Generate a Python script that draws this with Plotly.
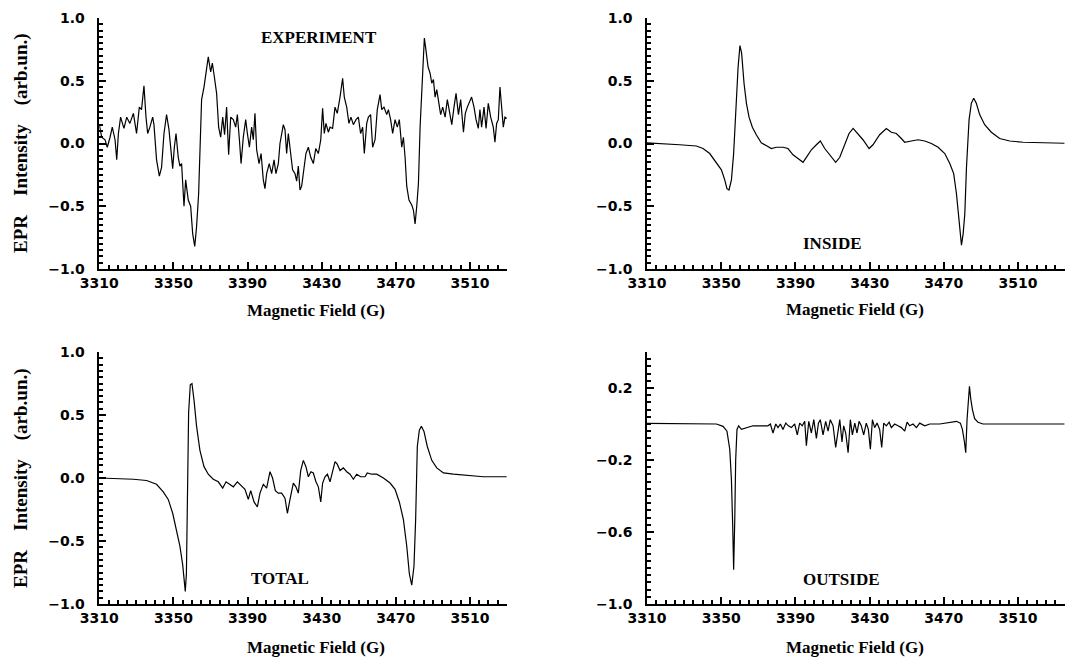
import plotly.graph_objects as go

W, H = 1065, 659

# ---------------- data ----------------
exp_field = [3310.0, 3311.3, 3313.1, 3314.3, 3315.8, 3317.0, 3318.5, 3319.4, 3320.3, 3321.5,
             3323.3, 3324.8, 3326.5, 3328.4, 3330.1, 3331.6, 3332.8, 3334.1, 3335.2, 3336.1,
             3337.3, 3338.8, 3339.5, 3340.9, 3342.4, 3343.6, 3344.9, 3346.3, 3347.6, 3348.7,
             3349.6, 3350.5, 3351.4, 3352.6, 3353.5, 3354.4, 3355.7, 3356.6, 3358.0, 3359.3,
             3360.4, 3361.5, 3362.5, 3363.6, 3364.3, 3365.2, 3366.5, 3367.9, 3368.8, 3370.1,
             3371.0, 3372.1, 3373.3, 3374.4, 3375.5, 3376.6, 3377.6, 3378.7, 3379.8, 3380.9,
             3382.3, 3383.6, 3384.5, 3385.6, 3386.5, 3387.7, 3389.0, 3389.9, 3391.0, 3392.2,
             3393.1, 3394.0, 3394.9, 3396.2, 3397.3, 3398.5, 3399.4, 3400.3, 3401.7, 3403.0,
             3404.3, 3405.3, 3406.6, 3407.5, 3408.4, 3409.3, 3410.2, 3411.1, 3412.0, 3413.3,
             3414.3, 3415.6, 3416.5, 3417.4, 3418.3, 3419.2, 3420.1, 3421.5, 3422.8, 3424.1,
             3425.5, 3426.8, 3428.2, 3429.5, 3430.5, 3431.4, 3432.3, 3433.6, 3434.5, 3435.9,
             3437.2, 3438.4, 3439.9, 3441.3, 3442.2, 3443.5, 3444.7, 3445.8, 3447.1, 3448.5,
             3449.8, 3451.0, 3452.1, 3453.0, 3454.3, 3455.2, 3456.4, 3457.5, 3458.8, 3460.0,
             3461.5, 3462.4, 3463.6, 3465.1, 3466.0, 3467.2, 3468.3, 3469.6, 3470.8, 3471.9,
             3473.2, 3474.1, 3475.0, 3475.9, 3477.1, 3478.6, 3479.5, 3480.4, 3481.3, 3482.2,
             3483.1, 3484.0, 3484.9, 3485.4, 3486.3, 3487.4, 3488.5, 3489.4, 3490.3, 3491.2,
             3492.1, 3493.5, 3494.2, 3495.3, 3496.6, 3497.8, 3498.9, 3500.2, 3501.4, 3502.5,
             3503.8, 3505.0, 3506.5, 3507.5, 3508.6, 3510.0, 3510.9, 3512.2, 3513.3, 3514.5,
             3515.4, 3516.3, 3517.6, 3518.7, 3519.9, 3521.2, 3522.6, 3523.5, 3524.4, 3525.3,
             3526.2, 3527.1, 3528.0, 3528.9, 3529.8]
exp_int = [0.15, 0.05, 0.03, -0.03, 0.05, 0.13, 0.03, -0.13, 0.08, 0.21,
           0.12, 0.21, 0.16, 0.24, 0.08, 0.29, 0.27, 0.46, 0.21, 0.08,
           0.13, 0.21, 0.15, -0.13, -0.26, -0.19, 0.08, 0.23, 0.11, -0.08,
           -0.20, -0.03, 0.08, -0.11, -0.18, -0.16, -0.50, -0.29, -0.45, -0.50,
           -0.72, -0.82, -0.66, -0.40, -0.05, 0.35, 0.45, 0.61, 0.69, 0.57,
           0.64, 0.53, 0.40, 0.13, 0.05, 0.21, 0.07, 0.29, -0.09, 0.21,
           0.19, 0.13, 0.23, 0.03, -0.16, 0.05, 0.19, 0.08, -0.03, 0.13,
           0.03, 0.24, -0.05, -0.16, -0.08, -0.29, -0.36, -0.24, -0.16, -0.24,
           -0.13, -0.24, -0.16, 0.00, 0.08, 0.15, 0.11, -0.08, 0.08, -0.11,
           -0.21, -0.24, -0.30, -0.18, -0.37, -0.34, -0.24, -0.08, -0.03, -0.11,
           -0.16, -0.04, -0.08, 0.03, 0.28, 0.08, 0.16, 0.09, 0.13, 0.12,
           0.29, 0.24, 0.37, 0.52, 0.37, 0.29, 0.16, 0.21, 0.15, 0.19,
           0.21, 0.08, 0.13, -0.08, 0.16, 0.21, 0.23, -0.03, 0.03, 0.27,
           0.39, 0.27, 0.29, 0.23, 0.27, 0.19, 0.08, 0.19, 0.13, 0.19,
           -0.03, 0.05, -0.11, -0.34, -0.45, -0.49, -0.53, -0.64, -0.50, -0.32,
           0.13, 0.45, 0.72, 0.84, 0.74, 0.61, 0.56, 0.48, 0.51, 0.37,
           0.43, 0.29, 0.23, 0.29, 0.21, 0.35, 0.24, 0.15, 0.29, 0.40,
           0.23, 0.35, 0.09, 0.24, 0.29, 0.35, 0.37, 0.29, 0.19, 0.12,
           0.27, 0.13, 0.29, 0.12, 0.32, 0.21, 0.13, 0.01, 0.16, 0.19,
           0.45, 0.29, 0.13, 0.21, 0.20]

inside_field = [3310.0, 3318.6, 3327.6, 3336.6, 3340.2, 3343.8, 3347.4, 3350.1, 3351.9, 3353.1,
                3354.2, 3355.5, 3356.7, 3357.8, 3359.1, 3360.1, 3361.0, 3362.3, 3363.6, 3365.0,
                3366.8, 3368.9, 3371.6, 3374.7, 3377.0, 3379.7, 3383.3, 3386.0, 3388.7, 3391.4,
                3394.1, 3395.9, 3398.6, 3401.3, 3403.4, 3405.8, 3408.5, 3411.7, 3413.9, 3416.6,
                3418.9, 3421.1, 3423.7, 3426.4, 3429.7, 3431.8, 3435.4, 3439.0, 3441.7, 3444.4,
                3447.1, 3448.9, 3452.5, 3456.1, 3459.7, 3463.3, 3466.9, 3470.5, 3473.2, 3475.3,
                3476.8, 3478.2, 3479.5, 3480.4, 3481.3, 3482.2, 3483.6, 3484.8, 3486.1, 3487.5,
                3489.3, 3492.0, 3495.6, 3500.1, 3505.5, 3512.7, 3521.7, 3528.0, 3535.0]
inside_int = [0.005, -0.005, -0.01, -0.02, -0.04, -0.08, -0.16, -0.21, -0.29, -0.36,
              -0.37, -0.29, -0.08, 0.27, 0.61, 0.78, 0.72, 0.48, 0.32, 0.21,
              0.13, 0.07, 0.005, -0.02, -0.04, -0.03, -0.03, -0.04, -0.09, -0.12,
              -0.15, -0.11, -0.05, -0.01, 0.02, -0.04, -0.09, -0.15, -0.11, 0.00,
              0.08, 0.12, 0.08, 0.03, -0.04, -0.01, 0.07, 0.12, 0.09, 0.08,
              0.04, 0.01, 0.02, 0.03, 0.02, 0.00, -0.03, -0.08, -0.16, -0.24,
              -0.40, -0.61, -0.81, -0.72, -0.56, -0.19, 0.19, 0.32, 0.36, 0.32,
              0.23, 0.15, 0.09, 0.04, 0.02, 0.01, 0.005, 0.003, 0.002]

total_field = [3310.0, 3319.4, 3328.4, 3335.5, 3340.9, 3344.5, 3347.2, 3349.6, 3351.7, 3353.5,
               3355.0, 3355.7, 3356.4, 3357.0, 3357.5, 3358.2, 3359.1, 3360.0, 3361.1, 3362.5,
               3364.3, 3366.5, 3368.8, 3371.5, 3374.2, 3376.6, 3378.4, 3380.5, 3382.3, 3384.5,
               3386.3, 3388.6, 3390.4, 3391.7, 3393.5, 3395.3, 3396.7, 3398.5, 3400.3, 3402.1,
               3403.5, 3405.0, 3406.6, 3408.4, 3410.2, 3411.5, 3412.9, 3414.7, 3416.1, 3417.4,
               3418.7, 3420.1, 3421.5, 3422.8, 3424.2, 3425.5, 3426.9, 3428.2, 3429.5, 3430.5,
               3431.8, 3433.1, 3434.5, 3435.9, 3437.2, 3438.4, 3439.9, 3441.7, 3443.5, 3445.3,
               3447.1, 3448.9, 3451.0, 3453.4, 3454.6, 3457.0, 3459.7, 3463.3, 3466.9, 3469.6,
               3471.9, 3474.1, 3475.9, 3477.3, 3478.6, 3479.8, 3480.7, 3481.6, 3482.7, 3483.8,
               3485.2, 3487.0, 3489.4, 3492.1, 3495.7, 3501.1, 3508.2, 3517.2, 3529.8]
total_int = [0.00, -0.005, -0.01, -0.02, -0.05, -0.11, -0.17, -0.28, -0.41, -0.54,
             -0.69, -0.78, -0.90, -0.76, -0.07, 0.52, 0.74, 0.75, 0.62, 0.41,
             0.22, 0.09, 0.03, -0.01, -0.03, -0.08, -0.03, -0.05, -0.07, -0.03,
             -0.06, -0.09, -0.17, -0.10, -0.19, -0.23, -0.12, -0.05, -0.08, 0.05,
             0.00, -0.10, -0.12, -0.12, -0.16, -0.28, -0.17, -0.04, -0.07, -0.12,
             0.06, 0.14, 0.09, 0.01, 0.05, 0.04, -0.03, -0.07, -0.19, -0.04,
             0.01, 0.03, -0.03, 0.05, 0.13, 0.11, 0.06, 0.08, 0.05, 0.03,
             -0.01, 0.03, 0.01, 0.01, 0.04, 0.03, 0.03, 0.00, -0.04, -0.09,
             -0.19, -0.33, -0.54, -0.76, -0.85, -0.70, -0.33, 0.25, 0.38, 0.41,
             0.37, 0.25, 0.14, 0.08, 0.04, 0.03, 0.02, 0.01, 0.01]

outside_field = [3310.0, 3327.6, 3340.2, 3347.4, 3351.0, 3353.1, 3354.6, 3355.5, 3356.2, 3356.7,
                 3357.3, 3357.8, 3358.5, 3359.4, 3360.9, 3363.6, 3367.1, 3370.7, 3373.4, 3375.2,
                 3376.5, 3377.9, 3379.4, 3380.6, 3381.9, 3383.3, 3384.8, 3386.2, 3387.8, 3389.6,
                 3391.0, 3392.3, 3393.7, 3395.0, 3395.9, 3397.2, 3398.6, 3399.9, 3401.3, 3402.4,
                 3403.4, 3404.9, 3406.3, 3407.6, 3408.8, 3410.3, 3411.7, 3412.8, 3413.9, 3415.1,
                 3416.0, 3417.1, 3418.4, 3419.6, 3420.7, 3422.0, 3423.2, 3424.3, 3425.5, 3426.8,
                 3428.2, 3429.3, 3430.4, 3431.5, 3432.7, 3434.0, 3435.4, 3436.5, 3437.6, 3439.0,
                 3440.5, 3441.7, 3443.5, 3445.3, 3447.1, 3448.9, 3450.2, 3451.6, 3453.4, 3455.2,
                 3457.0, 3459.7, 3462.4, 3467.8, 3473.2, 3476.8, 3478.9, 3480.0, 3481.1, 3481.8,
                 3482.5, 3483.2, 3483.8, 3484.5, 3485.4, 3486.6, 3488.4, 3491.1, 3501.9, 3528.0,
                 3535.0]
outside_int = [0.004, 0.002, 0.0, 0.0, -0.013, -0.04, -0.14, -0.31, -0.57, -0.81,
               -0.53, -0.20, -0.03, -0.01, -0.03, -0.02, -0.01, -0.01, -0.01, -0.01,
               0.0, -0.05, 0.0, -0.02, 0.0, -0.03, 0.005, -0.01, -0.02, 0.0,
               -0.06, 0.005, -0.01, 0.015, -0.12, 0.015, -0.05, 0.024, -0.08, 0.005,
               0.024, -0.06, 0.015, -0.04, 0.024, -0.01, -0.13, -0.05, 0.024, -0.10,
               -0.01, -0.05, -0.16, 0.024, -0.06, 0.005, -0.05, 0.015, -0.01, -0.06,
               0.005, -0.03, -0.14, 0.024, -0.02, 0.005, -0.03, -0.13, 0.005, -0.01,
               0.01, -0.02, 0.0, -0.01, -0.02, -0.04, 0.01, -0.01, 0.0, -0.02,
               0.005, -0.01, 0.0, 0.0, 0.01, 0.015, 0.005, -0.03, -0.10, -0.16,
               0.024, 0.15, 0.21, 0.14, 0.08, 0.03, 0.01, 0.0, 0.0, 0.0,
               0.0]

panel_labels = ["EXPERIMENT", "INSIDE", "TOTAL", "OUTSIDE"]
x_title = "Magnetic Field (G)"
y_title = "EPR\u00a0\u00a0\u00a0\u00a0Intensity\u00a0\u00a0\u00a0\u00a0(arb.un.)"

# ---------------- figure ----------------
def px(x):
    return x / W


def py(y):
    return 1 - y / H


fig = go.Figure()
series = [(exp_field, exp_int), (inside_field, inside_int),
          (total_field, total_int), (outside_field, outside_int)]
for i, (xs, ys) in enumerate(series):
    sfx = "" if i == 0 else str(i + 1)
    fig.add_trace(go.Scatter(x=xs, y=ys, mode="lines", xaxis="x" + sfx, yaxis="y" + sfx,
                             line=dict(color="black", width=1.2)))

# pixel geometry of the four panels: (x0, x1, ytop, ybottom, xmax)
geom = [(99.3, 507.0, 18, 269, 3530.0),
        (647.0, 1065.0, 18, 269, 3535.3),
        (99.3, 507.0, 352, 604, 3530.0),
        (647.0, 1065.0, 352, 604, 3535.3)]

layout = dict(width=W, height=H, template="none", margin=dict(l=0, r=0, t=0, b=0, pad=0),
              showlegend=False)

for i, (x0, x1, yt, yb, xmax) in enumerate(geom):
    sfx = "" if i == 0 else str(i + 1)
    if i == 3:
        yrange, ydt, ymdt = [-1, 0.4], 0.4, 0.04
    else:
        yrange, ydt, ymdt = [-1, 1], 0.5, 0.05
    xa = dict(domain=[px(x0), px(x1)], range=[3310, xmax], anchor="y" + sfx,
              ticks="inside", ticklen=7, tickcolor="black", tickwidth=2,
              showline=True, linecolor="black", linewidth=1.8,
              showgrid=False, zeroline=False, automargin=False,
              tick0=3310, dtick=40,
              tickfont=dict(family="DejaVu Sans", size=14, color="black", weight="bold"),
              minor=dict(ticks="inside", ticklen=4, tickcolor="black", dtick=5, tick0=3310))
    ya = dict(domain=[py(yb), py(yt)], range=yrange, anchor="x" + sfx,
              ticks="inside", ticklen=7, tickcolor="black", tickwidth=2,
              showline=True, linecolor="black", linewidth=1.8,
              showgrid=False, zeroline=False, automargin=False,
              tick0=-1, dtick=ydt, tickformat=".1f", ticksuffix="\u00a0\u00a0",
              tickfont=dict(family="DejaVu Sans", size=14, color="black", weight="bold"),
              minor=dict(ticks="inside", ticklen=4, tickcolor="black", dtick=ymdt, tick0=-1))
    layout["xaxis" + sfx] = xa
    layout["yaxis" + sfx] = ya

label_font = dict(family="Liberation Serif", size=17, color="black", weight="bold")
title_font = dict(family="Liberation Serif", size=17, color="black", weight="bold")
ytitle_font = dict(family="Liberation Serif", size=19, color="black", weight="bold")

ann = []
label_pos = [(319, 37), (832, 243), (280, 578), (841, 579)]
for txt, (x, y) in zip(panel_labels, label_pos):
    ann.append(dict(text=txt, x=px(x), y=py(y), xref="paper", yref="paper",
                    showarrow=False, font=label_font, xanchor="center", yanchor="middle"))
xt_pos = [(316, 311), (855, 310), (316, 647), (855, 647)]
for (x, y) in xt_pos:
    ann.append(dict(text=x_title, x=px(x), y=py(y), xref="paper", yref="paper",
                    showarrow=False, font=title_font, xanchor="center", yanchor="middle"))
for yc in [143, 478]:
    ann.append(dict(text=y_title, x=px(21), y=py(yc), xref="paper", yref="paper",
                    showarrow=False, font=ytitle_font, textangle=-90,
                    xanchor="center", yanchor="middle"))
layout["annotations"] = ann

fig.update_layout(**layout)
fig.write_html("out.html")
